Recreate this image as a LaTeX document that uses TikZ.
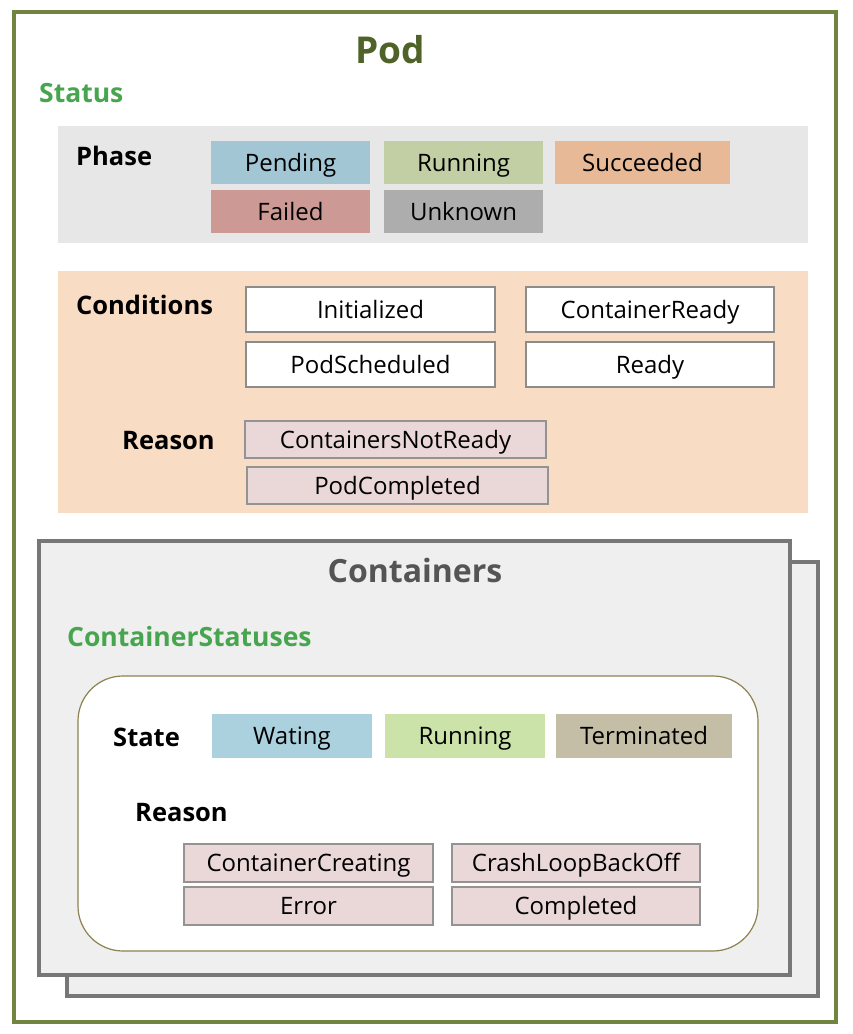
\documentclass[tikz,border=0pt]{standalone}
\usepackage{fontspec}
\setmainfont{Open Sans}
\definecolor{podgreen}{HTML}{728540}
\definecolor{podtitle}{HTML}{4F6228}
\definecolor{stgreen}{HTML}{48A54F}
\definecolor{phasebg}{HTML}{E7E7E7}
\definecolor{condbg}{HTML}{F8DCC3}
\definecolor{cpend}{HTML}{A3C6D4}
\definecolor{crun}{HTML}{C2CEA3}
\definecolor{csucc}{HTML}{E8B996}
\definecolor{cfail}{HTML}{CC9994}
\definecolor{cunk}{HTML}{ADADAD}
\definecolor{reasonbg}{HTML}{EAD7D7}
\definecolor{ctbg}{HTML}{EFEFEF}
\definecolor{ctborder}{HTML}{777777}
\definecolor{cwait}{HTML}{ABD0DE}
\definecolor{crun2}{HTML}{CBE3A9}
\definecolor{cterm}{HTML}{C3BEA5}
\definecolor{roundborder}{HTML}{8D8250}
\definecolor{darktitle}{HTML}{555555}
\tikzset{
  x=1pt,y=-1pt,
  tag/.style={anchor=center,font=\fontsize{24}{28}\selectfont,text=black,inner sep=0pt,text height=17pt,text depth=0pt},
  lab/.style={anchor=west,font=\fontsize{25.5}{29}\selectfont\bfseries,text=black,inner sep=0pt,text height=18pt,text depth=0pt},
  whitebox/.style={draw=gray!90,fill=white,line width=1.2pt},
  reasonbox/.style={draw=gray!85,fill=reasonbg,line width=1.2pt},
}
\begin{document}
\begin{tikzpicture}
\useasboundingbox (0,0) rectangle (852,1034);
% outer pod
\draw[podgreen,line width=3.5pt,fill=white] (14,12) rectangle (836,1022);
\node[font=\fontsize{37}{42}\selectfont\bfseries,text=podtitle,inner sep=0pt,text height=27pt,text depth=0pt] (pod) at (390,50) {Pod};
\node[font=\fontsize{26.5}{30}\selectfont\bfseries,text=stgreen,anchor=west,inner sep=0pt,text height=19pt,text depth=0pt] (status) at (39,93) {Status};
% phase
\fill[phasebg] (58,126) rectangle (808,243);
\node[lab] (phase) at (76,156) {Phase};
\fill[cpend] (211,141) rectangle (370,184);
\node[tag] (pending) at (290.5,162.5) {Pending};
\fill[crun] (384,141) rectangle (543,184);
\node[tag] (running) at (463.5,162.5) {Running};
\fill[csucc] (555,141) rectangle (730,184);
\node[tag] (succ) at (642.5,162.5) {Succeeded};
\fill[cfail] (211,190) rectangle (370,233);
\node[tag] (failed) at (290.5,211.5) {Failed};
\fill[cunk] (384,190) rectangle (543,233);
\node[tag] (unknown) at (463.5,211.5) {Unknown};
% conditions
\fill[condbg] (58,271) rectangle (808,513);
\node[lab] (cond) at (76,305) {Conditions};
\draw[whitebox] (246,287) rectangle (495,332);
\node[tag] (init) at (370.5,309.5) {Initialized};
\draw[whitebox] (526,287) rectangle (774,332);
\node[tag] (cready) at (650,309.5) {ContainerReady};
\draw[whitebox] (246,342) rectangle (495,387);
\node[tag] (psched) at (370.5,364.5) {PodScheduled};
\draw[whitebox] (526,342) rectangle (774,387);
\node[tag] (ready) at (650,364.5) {Ready};
\node[lab] (reason1) at (122,440) {Reason};
\draw[reasonbox] (245,421) rectangle (546,458);
\node[tag] (cnr) at (395.5,439.5) {ContainersNotReady};
\draw[reasonbox] (247,467) rectangle (548,504);
\node[tag] (pcomp) at (397.5,485.5) {PodCompleted};
% containers
\draw[ctborder,line width=4pt,fill=ctbg] (67,562) rectangle (818,996);
\draw[ctborder,line width=4pt,fill=ctbg] (39,541) rectangle (790,975);
\node[font=\fontsize{32}{36}\selectfont\bfseries,text=darktitle,inner sep=0pt,text height=23pt,text depth=0pt] (containers) at (415,571) {Containers};
\node[font=\fontsize{26.5}{30}\selectfont\bfseries,text=stgreen,anchor=west,inner sep=0pt,text height=19pt,text depth=0pt] (cstat) at (67,637) {ContainerStatuses};
\draw[roundborder,line width=1.2pt,fill=white,rounded corners=45pt] (78,676) rectangle (758,951);
\node[lab] (state) at (113,737) {State};
\fill[cwait] (212,714) rectangle (372,758);
\node[tag] (wait) at (292,736) {Wating};
\fill[crun2] (385,714) rectangle (545,758);
\node[tag] (run2) at (465,736) {Running};
\fill[cterm] (556,714) rectangle (732,758);
\node[tag] (term) at (644,736) {Terminated};
\node[lab] (reason2) at (135,812) {Reason};
\draw[reasonbox] (184,844) rectangle (433,882);
\node[tag] (ccreate) at (308.5,863) {ContainerCreating};
\draw[reasonbox] (452,844) rectangle (700,882);
\node[tag] (crash) at (576,863) {CrashLoopBackOff};
\draw[reasonbox] (184,887) rectangle (433,925);
\node[tag] (err) at (308.5,906) {Error};
\draw[reasonbox] (452,887) rectangle (700,925);
\node[tag] (compl) at (576,906) {Completed};
\end{tikzpicture}
\end{document}
